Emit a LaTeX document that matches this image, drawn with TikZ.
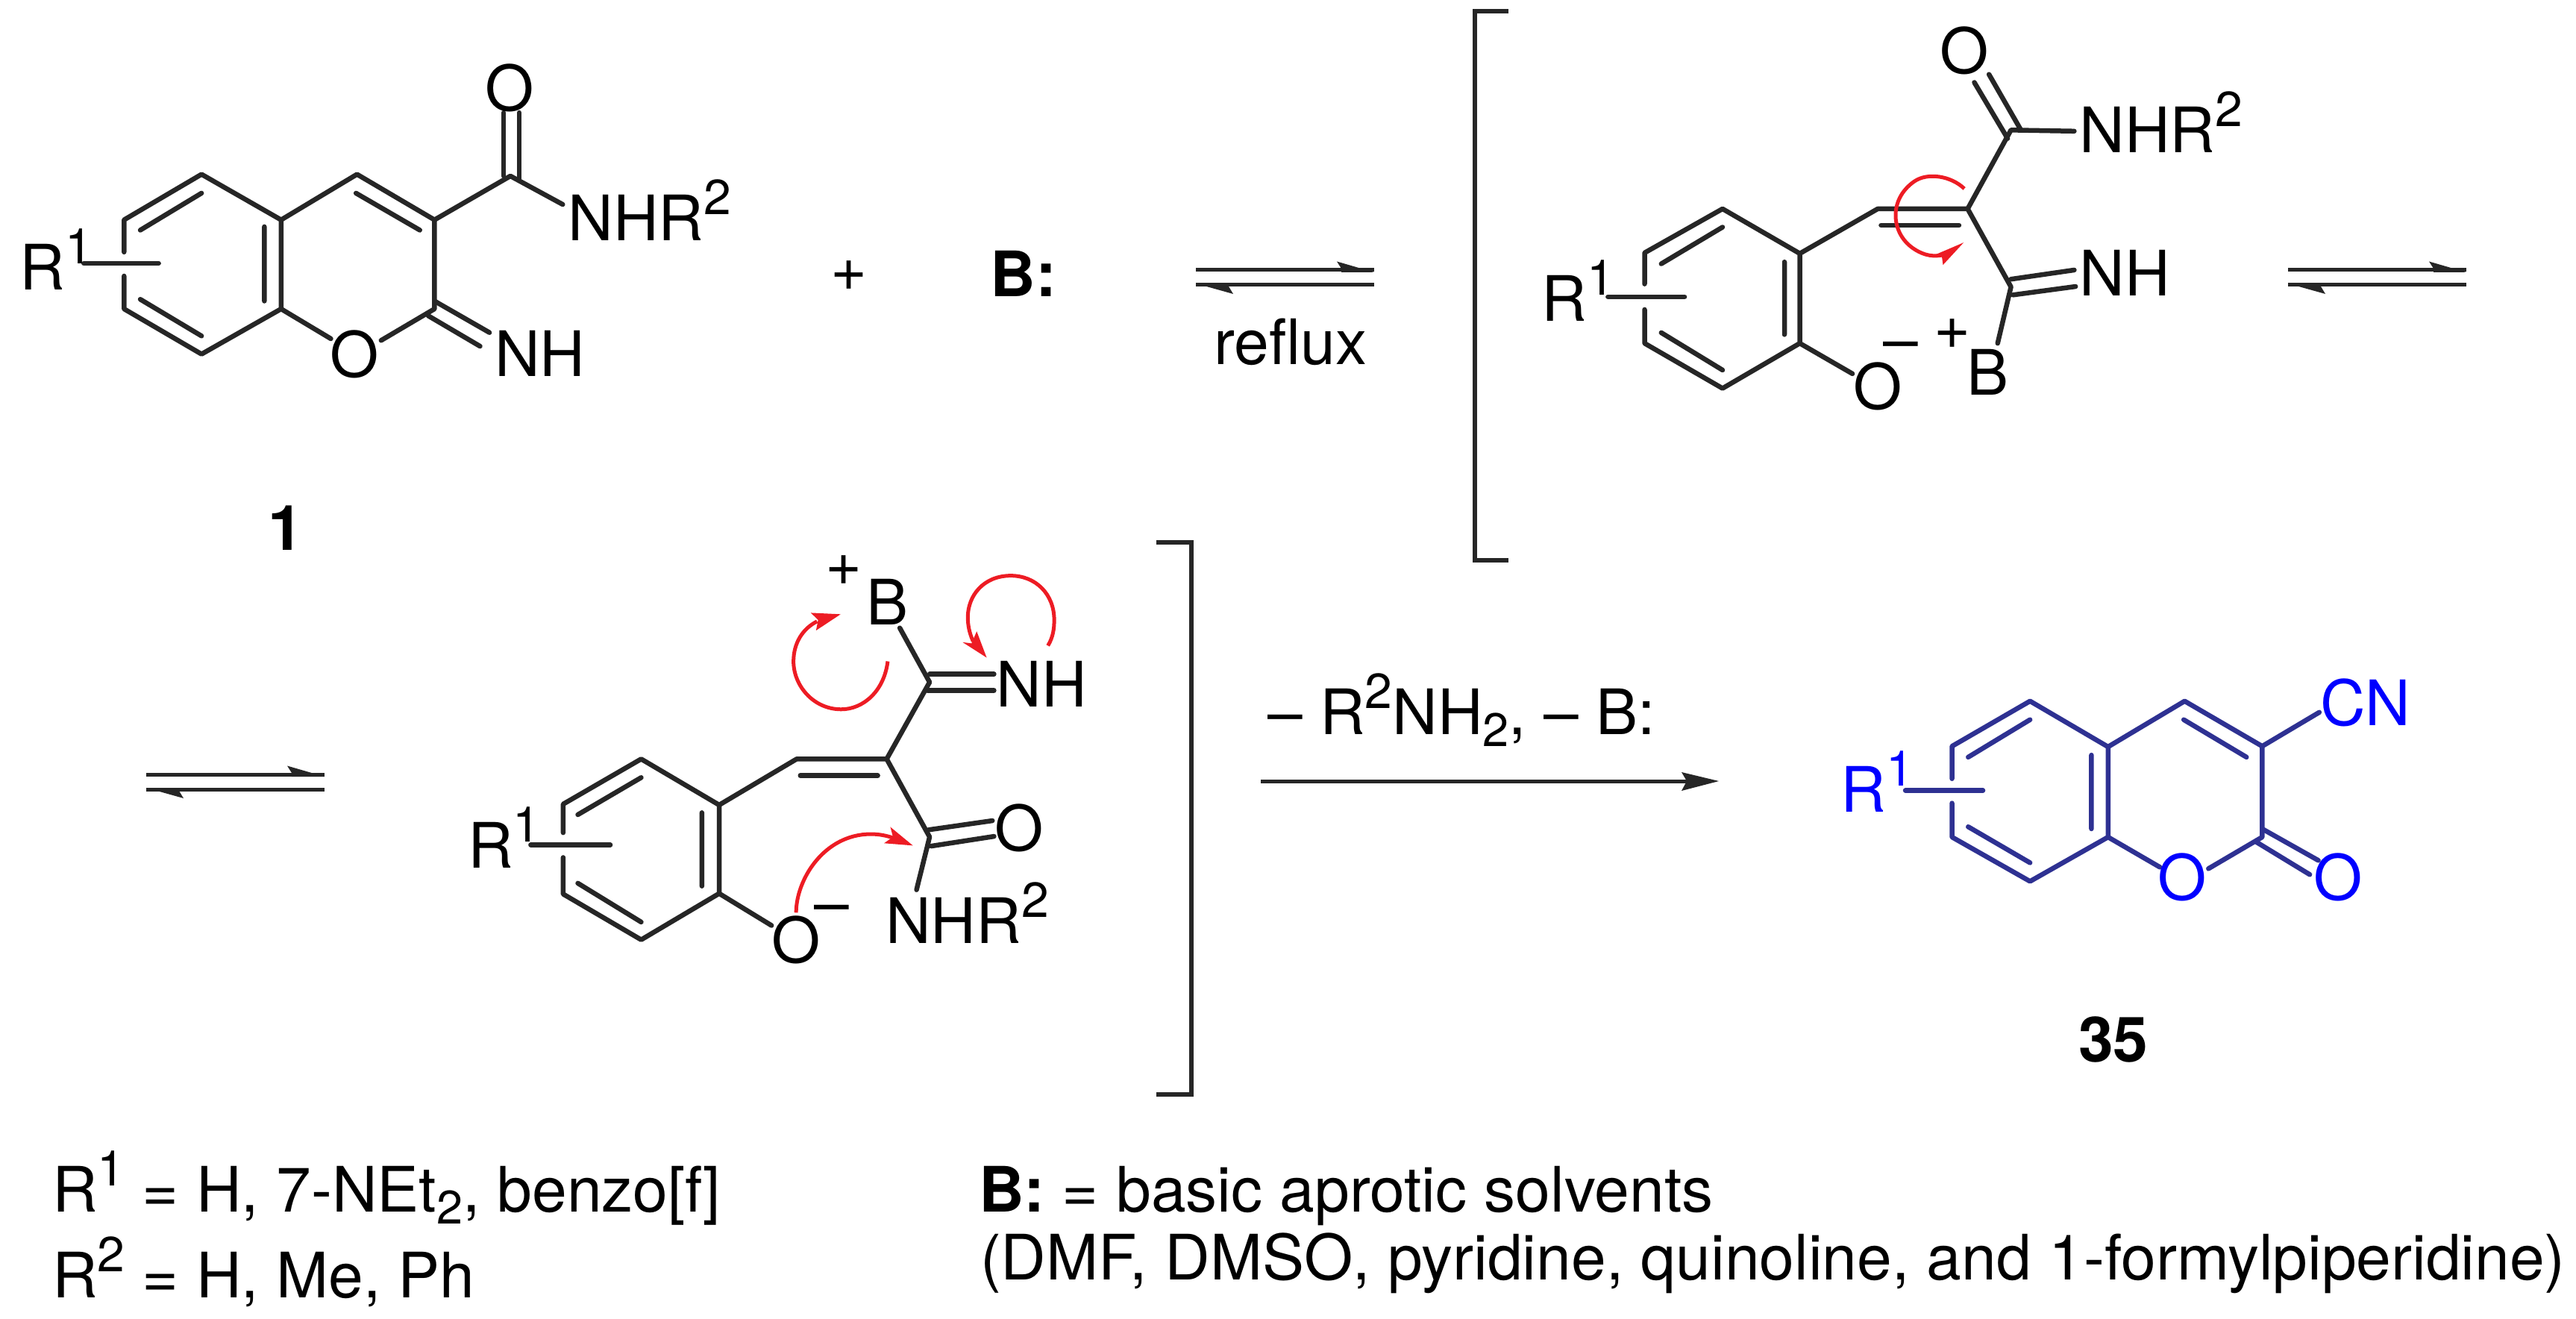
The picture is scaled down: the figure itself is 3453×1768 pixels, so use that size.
\documentclass[tikz,border=0pt]{standalone}
\usepackage{fontspec}
\setmainfont{TeX Gyre Heros}
\newcommand{\fs}{\fontsize{84}{90}\selectfont}
\newcommand{\sups}[1]{\raisebox{35pt}{\fontsize{66}{70}\selectfont #1}}
\newcommand{\subs}[1]{\raisebox{-16pt}{\fontsize{63}{70}\selectfont #1}}
\colorlet{bondblack}{black!85!white}
\definecolor{bluebond}{RGB}{46,49,146}
\definecolor{bluetext}{RGB}{0,0,255}
\definecolor{curly}{RGB}{237,28,36}
\tikzset{
  bond/.style={line width=6.5pt,draw=bondblack,line cap=round,line join=round},
  bbond/.style={line width=6.5pt,draw=bluebond,line cap=round,line join=round},
  lab/.style={inner sep=0pt,outer sep=0pt,font=\fs},
  blab/.style={inner sep=0pt,outer sep=0pt,font=\fs,text=bluetext},
  redarc/.style={line width=5pt,draw=curly},
  redhead/.style={fill=curly,draw=none},
  eq/.style={line width=5pt,draw=bondblack},
  eqhead/.style={fill=bondblack,draw=none},
}
\newcommand{\equil}[1]{%
  \begin{scope}[shift={#1}]
    \draw[eq] (0,0)--(239,0);
    \fill[eqhead] (239,3)--(189,-11.5)--(195,-2)--(195,3)--cycle;
    \draw[eq] (0,20)--(239,20);
    \fill[eqhead] (0,18)--(50,32)--(44,22)--(44,18)--cycle;
  \end{scope}}
\begin{document}
\begin{tikzpicture}[x=1pt,y=-1pt]
\useasboundingbox (0,0) rectangle (3453,1768);
% ---------- compound 1
\begin{scope}[shift={(0,50)},xscale=1/1.425,yscale=1/2.178]
\draw[bond] (237,627)--(237,533)--(385,400)--(537,533)--(537,793)--(385,925)--(237,793)--(237,697);
\draw[bond] (268,563)--(385,455) (268,765)--(385,872) (505,553)--(505,770);
\draw[bond] (537,533)--(682,400)--(830,533)--(830,793)--(728,885);
\draw[bond] (537,793)--(632,880);
\draw[bond] (680,455)--(802,563);
\draw[bond] (830,770)--(935,862) (818,813)--(917,902);
\draw[bond] (830,533)--(975,405)--(1075,488);
\draw[bond] (962,220)--(962,405) (992,220)--(992,415);
\draw[bond] (160,660)--(303,660);
\node[lab,anchor=base west] (r1a) at (38,737) {R\sups{1}};
\node[lab] (o1a) at (677,925) {O};
\node[lab,anchor=base west] (nh1) at (945,990) {NH};
\node[lab] (o1b) at (973,148) {O};
\node[lab,anchor=base west] (nhr1) at (1085,593) {NHR\sups{2}};
\node[lab,anchor=base,font=\fs\bfseries] (n1) at (546,1498) {1};
\end{scope}
\node[lab] (plus) at (1138,370) {+};
\node[lab,anchor=base,font=\fs\bfseries] (base1) at (1372,398) {B:};
\equil{(1603,362)}
\node[lab,anchor=base] (reflux) at (1730,488) {reflux};
% left bracket
\draw[bond,line cap=butt,line join=miter] (2022,15)--(1977,15)--(1977,751)--(2022,751);
% ---------- intermediate A
\begin{scope}[shift={(1950,0)},xscale=1/1.12,yscale=1/2.036]
\draw[bond] (285,775)--(285,690)--(402,570)--(518,692)--(518,937)--(402,1060)--(285,937)--(285,845);
\draw[bond] (310,720)--(402,620) (310,908)--(402,1010) (495,715)--(495,913);
\draw[bond] (518,692)--(635,570)--(770,570)--(835,355)--(930,358);
\draw[bond] (780,225)--(830,378) (802,203)--(850,355);
\draw[bond] (640,615)--(757,615);
\draw[bond] (770,570)--(835,783)--(815,937);
\draw[bond] (835,762)--(930,737) (838,805)--(932,782);
\draw[bond] (518,937)--(597,1020);
\draw[bond] (230,810)--(345,810);
\node[lab,anchor=base west] (r1b) at (131,877) {R\sups{1}};
\node[lab] (o2a) at (635,1055) {O};
\node[lab] (m2) at (670,960) {–};
\node[lab] (p2) at (747,912) {+};
\node[lab,anchor=base] (b2) at (800,1078) {B};
\node[lab,anchor=base west] (nh2) at (938,808) {NH};
\node[lab] (o2b) at (765,138) {O};
\node[lab,anchor=base west] (nhr2) at (938,417) {NHR\sups{2}};
\draw[redarc] (765,515) .. controls (745,480) and (710,470) .. (690,495) .. controls (650,545) and (655,640) .. (690,680) .. controls (705,698) and (720,702) .. (735,695);
\fill[redhead] (764,662)--(733,723)--(731,697)--(719,697)--cycle;
\end{scope}
\equil{(3067,362)}
\equil{(196,1038)}
% ---------- intermediate B
\begin{scope}[shift={(550,720)},xscale=1/1.425,yscale=1/2.613]
\draw[bond] (292,1035)--(292,935)--(441,777)--(590,938)--(590,1248)--(441,1410)--(292,1250)--(292,1122);
\draw[bond] (320,972)--(441,842) (320,1212)--(441,1348) (557,965)--(557,1222);
\draw[bond] (590,938)--(738,777)--(910,777)--(992,508)--(935,318);
\draw[bond] (745,835)--(893,835);
\draw[bond] (992,480)--(1115,480) (988,537)--(1115,537);
\draw[bond] (910,777)--(992,1050)--(967,1235);
\draw[bond] (990,1025)--(1112,993) (995,1082)--(1115,1048);
\draw[bond] (590,1248)--(690,1360);
\draw[bond] (230,1078)--(382,1078);
\node[lab,anchor=base west] (r1c) at (110,1160) {R\sups{1}};
\node[lab] (p3) at (828,117) {+};
\node[lab,anchor=base] (b3) at (912,308) {B};
\node[lab,anchor=base west] (nh3) at (1120,595) {NH};
\node[lab] (o3b) at (1163,1018) {O};
\node[lab,anchor=base west] (nhr3) at (908,1422) {NHR\sups{2}};
\node[lab] (o3a) at (737,1410) {O};
\node[lab] (m3) at (805,1323) {–};
\draw[redarc] (912,435) .. controls (905,540) and (865,603) .. (823,603) .. controls (770,603) and (732,520) .. (732,435) .. controls (732,370) and (750,320) .. (777,295);
\fill[redhead] (822,270)--(765,265)--(779,290)--(775,327)--cycle;
\draw[redarc] (1218,380) .. controls (1228,350) and (1230,320) .. (1230,290) .. controls (1230,200) and (1195,135) .. (1147,135) .. controls (1095,135) and (1065,205) .. (1065,280) .. controls (1065,310) and (1068,335) .. (1075,365);
\fill[redhead] (1101,422)--(1055,368)--(1072,372)--(1082,330)--cycle;
\draw[redarc] (737,1315) .. controls (737,1200) and (790,1040) .. (880,1040) .. controls (895,1040) and (910,1045) .. (925,1055);
\fill[redhead] (960,1080)--(917,1015)--(922,1050)--(905,1072)--cycle;
\end{scope}
% right bracket
\draw[bond,line cap=butt,line join=miter] (1550,727)--(1597,727)--(1597,1467)--(1550,1467);
% forward arrow
\coordinate (fwdstart) at (1690,1047);
\coordinate (fwdtip) at (2304,1047);
\draw[line width=5pt,draw=bondblack] (fwdstart)--(2262,1047);
\fill[eqhead] (fwdtip)--(2254,1035)--(2261,1047)--(2254,1060)--cycle;
\node[lab,anchor=base west] (cond) at (1699,984) {– R\sups{2}NH\subs{2}, – B:};
% ---------- product 35
\begin{scope}[shift={(2350,850)},xscale=1/1.568,yscale=1/2.529]
\draw[bbond] (418,490)--(418,380)--(582,227)--(746,382)--(746,688)--(582,838)--(418,688)--(418,573);
\draw[bbond] (452,417)--(582,290) (452,653)--(582,775) (711,410)--(711,660);
\draw[bbond] (746,382)--(907,227)--(1070,380)--(1070,688)--(957,795);
\draw[bbond] (746,688)--(855,790);
\draw[bbond] (905,290)--(1037,417);
\draw[bbond] (1070,380)--(1190,265);
\draw[bbond] (1070,660)--(1188,767) (1058,705)--(1170,815);
\draw[bbond] (320,530)--(483,530);
\node[blab,anchor=base west] (r1d) at (184,602) {R\sups{1}};
\node[blab] (o4a) at (902,825) {O};
\node[blab] (o4b) at (1229,825) {O};
\node[blab,anchor=base west] (cn) at (1192,310) {CN};
\node[lab,anchor=base,font=\fs\bfseries] (n35) at (757,1450) {35};
\end{scope}
% ---------- footnotes
\node[lab,anchor=base west] (f1) at (70,1624) {R\sups{1} = H, 7-NEt\subs{2}, benzo[f]};
\node[lab,anchor=base west] (f2) at (70,1739) {R\sups{2} = H, Me, Ph};
\node[lab,anchor=base west] (f3) at (1312,1624) {\bfseries B:\mdseries{} = basic aprotic solvents};
\node[lab,anchor=base west] (f4) at (1314,1715) {(DMF, DMSO, pyridine, quinoline, and 1-formylpiperidine)};
\end{tikzpicture}
\end{document}
